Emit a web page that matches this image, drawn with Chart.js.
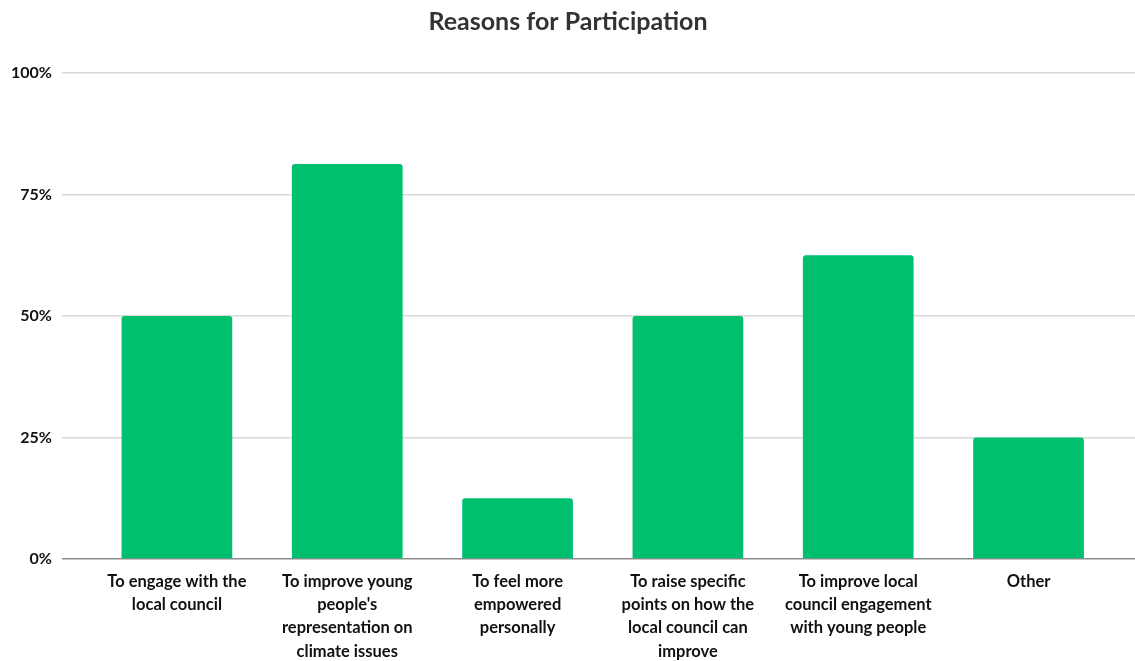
<!DOCTYPE html>
<html>
<head>
<meta charset="utf-8">
<script src="https://cdn.jsdelivr.net/npm/chart.js@4/dist/chart.umd.min.js"></script>
<style>
  html, body { margin: 0; padding: 0; background: #fff; }
  #wrap { width: 1135px; height: 661px; }
</style>
</head>
<body>
<div id="wrap"><canvas id="chart" width="1135" height="661"></canvas></div>
<script>
// Categories (already split into the lines shown under each bar)
const categories = [
    ['To engage with the', 'local council'],
    ['To improve young', "people's", 'representation on', 'climate issues'],
    ['To feel more', 'empowered', 'personally'],
    ['To raise specific', 'points on how the', 'local council can', 'improve'],
    ['To improve local', 'council engagement', 'with young people'],
    ['Other']
];
// Percent of respondents
const shares = [50, 81.25, 12.5, 50, 62.5, 25];
const yTicks = [0, 25, 50, 75, 100];

const barGreen = '#00BF6F';

// x as numeric positions so the plot area can have Excel-like inner margins
const points = shares.map((v, i) => ({ x: i, y: v }));

new Chart(document.getElementById('chart'), {
    type: 'bar',
    data: {
        datasets: [{
            data: points,
            backgroundColor: barGreen,
            borderRadius: 3,
            borderSkipped: 'bottom',
            categoryPercentage: 0.65,
            barPercentage: 1
        }]
    },
    options: {
        responsive: false,
        animation: false,
        layout: { padding: { left: 1, right: 0, top: 0, bottom: -5 } },
        plugins: {
            legend: { display: false },
            tooltip: { enabled: false },
            title: {
                display: true,
                text: 'Reasons for Participation',
                color: '#333333',
                font: { family: 'Lato', weight: 'bold', size: 25 },
                padding: { top: 7, bottom: 36 }
            }
        },
        scales: {
            x: {
                type: 'linear',
                offset: false,
                min: -0.675,
                max: 5.625,
                grid: { display: false },
                border: { display: false },
                afterBuildTicks: (scale) => {
                    scale.ticks = categories.map((c, i) => ({ value: i }));
                },
                ticks: {
                    autoSkip: false,
                    maxRotation: 0,
                    padding: 3,
                    color: '#111111',
                    font: { family: 'Lato', weight: 'bold', size: 16.5, lineHeight: 1.41 },
                    callback: (v) => categories[v]
                }
            },
            y: {
                min: 0,
                max: 100,
                afterBuildTicks: (scale) => {
                    scale.ticks = yTicks.map(v => ({ value: v }));
                },
                grid: {
                    drawTicks: false,
                    lineWidth: 1.5,
                    color: (ctx) => ctx.tick && ctx.tick.value === 0 ? '#8c8c8c' : '#d9d9d9'
                },
                border: { display: false },
                ticks: {
                    padding: 10,
                    color: '#111111',
                    font: { family: 'Lato', weight: 'bold', size: 16 },
                    callback: (v) => v + '%'
                }
            }
        }
    }
});
</script>
</body>
</html>
